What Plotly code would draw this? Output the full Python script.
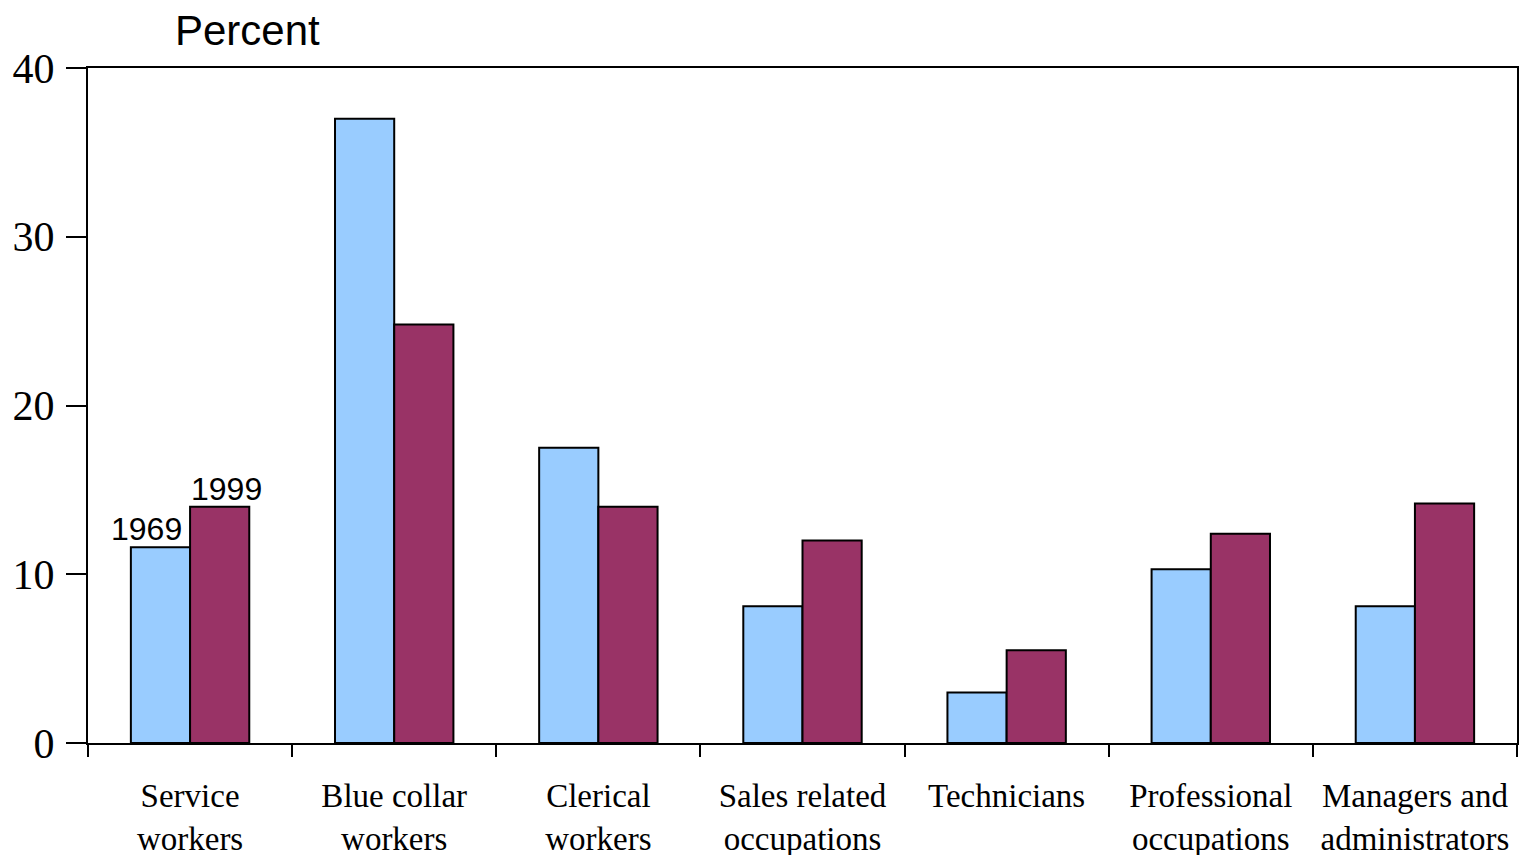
import plotly.graph_objects as go

categories = ["Service<br>workers", "Blue collar<br>workers", "Clerical<br>workers",
              "Sales related<br>occupations", "Technicians", "Professional<br>occupations",
              "Managers and<br>administrators"]
values_1969 = [11.6, 37.0, 17.5, 8.1, 3.0, 10.3, 8.1]
values_1999 = [14.0, 24.8, 14.0, 12.0, 5.5, 12.4, 14.2]
series_names = ["1969", "1999"]
y_ticks = [0, 10, 20, 30, 40]

fig = go.Figure()
fig.add_trace(go.Bar(x=categories, y=values_1969, name=series_names[0],
                     marker=dict(color="#99CCFF", line=dict(color="black", width=2))))
fig.add_trace(go.Bar(x=categories, y=values_1999, name=series_names[1],
                     marker=dict(color="#993366", line=dict(color="black", width=2))))

fig.update_layout(
    width=1512, height=847,
    margin=dict(l=80, r=3, t=60, b=112, autoexpand=False),
    barmode="group", bargap=0.42, bargroupgap=0,
    showlegend=False,
    plot_bgcolor="white", paper_bgcolor="white",
    font=dict(family="Times New Roman, Liberation Serif", color="black"),
)
fig.update_xaxes(
    type="category", showline=True, linecolor="black", linewidth=2, mirror=True,
    ticks="outside", ticklen=12, tickwidth=2, tickcolor="black", tickson="boundaries",
    tickfont=dict(family="Times New Roman, Liberation Serif", size=33, color="black"),
    ticklabelstandoff=22, showgrid=False, automargin=False,
)
fig.update_yaxes(
    range=[0, 40], tickvals=y_ticks, showline=True, linecolor="black", linewidth=2,
    mirror=True, ticks="outside", ticklen=20, tickwidth=2, tickcolor="black",
    tickfont=dict(family="Times New Roman, Liberation Serif", size=42, color="black"),
    ticklabelstandoff=3, showgrid=False, zeroline=False, automargin=False,
)

fig.add_annotation(x=categories[0], y=values_1969[0], xref="x", yref="y", text=series_names[0],
                   showarrow=False, yanchor="bottom", xshift=-44, yshift=-2,
                   font=dict(family="Arial, Liberation Sans", size=32, color="black"))
fig.add_annotation(x=categories[0], y=values_1999[0], xref="x", yref="y", text=series_names[1],
                   showarrow=False, yanchor="bottom", xshift=36, yshift=-2,
                   font=dict(family="Arial, Liberation Sans", size=32, color="black"))
fig.add_annotation(x=(247 - 88) / 1429, y=1 + 38 / 675, xref="paper", yref="paper", text="Percent",
                   showarrow=False, xanchor="center", yanchor="middle",
                   font=dict(family="Arial, Liberation Sans", size=42, color="black"))

fig.write_html("out.html")
